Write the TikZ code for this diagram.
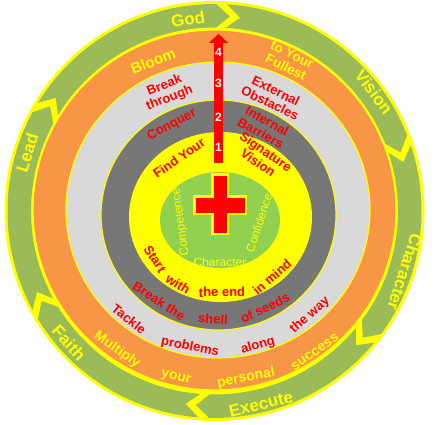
\documentclass[tikz,border=0pt]{standalone}
\usepackage{fontspec}
\setmainfont{Liberation Sans}
\usetikzlibrary{arrows.meta}
\definecolor{og}{HTML}{9BBB59}
\definecolor{orng}{HTML}{F79646}
\definecolor{lgr}{HTML}{D9D9D9}
\definecolor{dgr}{HTML}{777777}
\definecolor{ylw}{HTML}{FFFF00}
\definecolor{igr}{HTML}{92D050}
\definecolor{rd}{HTML}{FF0000}
\newcommand{\ringseg}[2]{%
  \fill[og] (#1:207) arc[start angle=#1, end angle=#2, radius=207] -- ({#2-4}:195) -- (#2:183.5)
    arc[start angle=#2, end angle=#1, radius=183.5] -- ({#1-4}:195) -- cycle;}
\begin{document}
\begin{tikzpicture}[x=1pt,y=1pt,
  outertxt/.style={text=ylw, font=\bfseries\fontsize{17}{17}\selectfont, inner sep=0pt},
  orgtxt/.style={text=ylw, font=\bfseries\fontsize{14}{14.5}\selectfont, align=center, inner sep=0pt},
  redtxt/.style={text=rd, font=\bfseries\fontsize{13}{13.5}\selectfont, align=center, inner sep=0pt},
  grntxt/.style={text=ylw, font=\fontsize{12}{12}\selectfont, inner sep=0pt},
  numtxt/.style={text=white, font=\bfseries\fontsize{12}{12}\selectfont, inner sep=0pt}]
\useasboundingbox (0,0) rectangle (438,424);
\fill[white] (0,0) rectangle (438,424);
% outer ring
\fill[ylw] (214.5,213) circle[radius=210];
\begin{scope}[shift={(214.5,213)}]
  \ringseg{148.5}{89.5}
  \ringseg{86.5}{21.5}
  \ringseg{18.5}{-36.5}
  \ringseg{-39.5}{-91.5}
  \ringseg{-94.5}{-148.5}
  \ringseg{208.5}{151.5}
\end{scope}
% inner rings
\filldraw[fill=orng, draw=ylw, line width=1.2] (214.5,214) ellipse[x radius=181.5, y radius=180];
\filldraw[fill=lgr, draw=ylw, line width=1.2] (218,214) ellipse[x radius=152, y radius=148];
\filldraw[fill=dgr, draw=ylw, line width=1.2] (218.5,209) ellipse[x radius=117.5, y radius=115];
\fill[ylw] (220.5,207) ellipse[x radius=91.5, y radius=85];
\fill[igr] (220,204) ellipse[x radius=60, y radius=48];
% cross
\fill[ylw] (211,189) rectangle (229,251);
\fill[ylw] (193,209) rectangle (247,229);
\fill[rd] (213.5,191.5) rectangle (226.5,248.5);
\fill[rd] (195.5,211.5) rectangle (244.5,226.5);
% arrow
\coordinate (ab) at (218.5,261);
\coordinate (at) at (218.5,390);
\draw[rd, line width=9.5, -{Triangle[width=19,length=9]}] (ab) -- (at);
\node[numtxt] (n4) at (218.5,372) {4};
\node[numtxt] (n3) at (218.5,341) {3};
\node[numtxt] (n2) at (218.5,307) {2};
\node[numtxt] (n1) at (218.5,277) {1};
% outer texts
\node[outertxt, rotate=8] (tgod) at (188,405) {God};
\node[outertxt, rotate=-53] (tvision) at (374,332) {Vision};
\node[outertxt, rotate=-108] (tchar) at (405,152) {Character};
\node[outertxt, rotate=13.5] (texec) at (261,20) {Execute};
\node[outertxt, rotate=-48] (tfaith) at (69,81) {Faith};
\node[outertxt, rotate=73] (tlead) at (27,271) {Lead};
% orange ring texts
\node[orgtxt, font=\bfseries\fontsize{15}{15}\selectfont, rotate=22] (tbloom) at (153,363) {Bloom};
\node[orgtxt, font=\bfseries\fontsize{13.5}{14}\selectfont, rotate=-26] (tfull) at (289,363) {to Your\\Fullest};
\node[orgtxt, rotate=-35] (tmult) at (117,74) {Multiply};
\node[orgtxt, rotate=-13] (tyour) at (176,46) {your};
\node[orgtxt, rotate=11] (tpers) at (246,46) {personal};
\node[orgtxt, rotate=35.5] (tsucc) at (315,72) {success};
% light gray ring texts
\node[redtxt, rotate=22] (tbreak) at (167,332) {Break\\through};
\node[redtxt, rotate=-26] (text) at (273,327) {External\\Obstacles};
\node[redtxt, rotate=-39] (ttack) at (129,105) {Tackle};
\node[redtxt, rotate=-11.5] (tprob) at (190,77) {problems};
\node[redtxt, rotate=16] (talong) at (258,78) {along};
\node[redtxt, rotate=41] (tway) at (310,109) {the way};
% dark gray ring texts
\node[redtxt, rotate=28] (tconq) at (172,299) {Conquer};
\node[redtxt, rotate=-28.5] (tint) at (264,297) {Internal\\Barriers};
\node[redtxt, rotate=-33.5] (tbrk) at (159,123) {Break the};
\node[redtxt, rotate=-3] (tshell) at (213,105) {shell};
\node[redtxt, rotate=26] (tseeds) at (265,116) {of seeds};
% yellow ring texts
\node[redtxt, rotate=35] (tfind) at (179,266) {Find Your};
\node[redtxt, rotate=-35] (tsig) at (262,267) {Signature\\Vision};
\node[redtxt, rotate=-57] (tstart) at (155,165) {Start};
\node[redtxt, rotate=-32] (twith) at (178,140) {with};
\node[redtxt, rotate=1] (tend) at (222,132) {the end};
\node[redtxt, rotate=41] (tmind) at (272,147) {in mind};
% green circle texts
\node[grntxt, rotate=98] (tcomp) at (181,202) {Competence};
\node[grntxt, rotate=72] (tconf) at (259,201) {Confidence};
\node[grntxt] (tchr) at (220,162) {Character};
\end{tikzpicture}
\end{document}
